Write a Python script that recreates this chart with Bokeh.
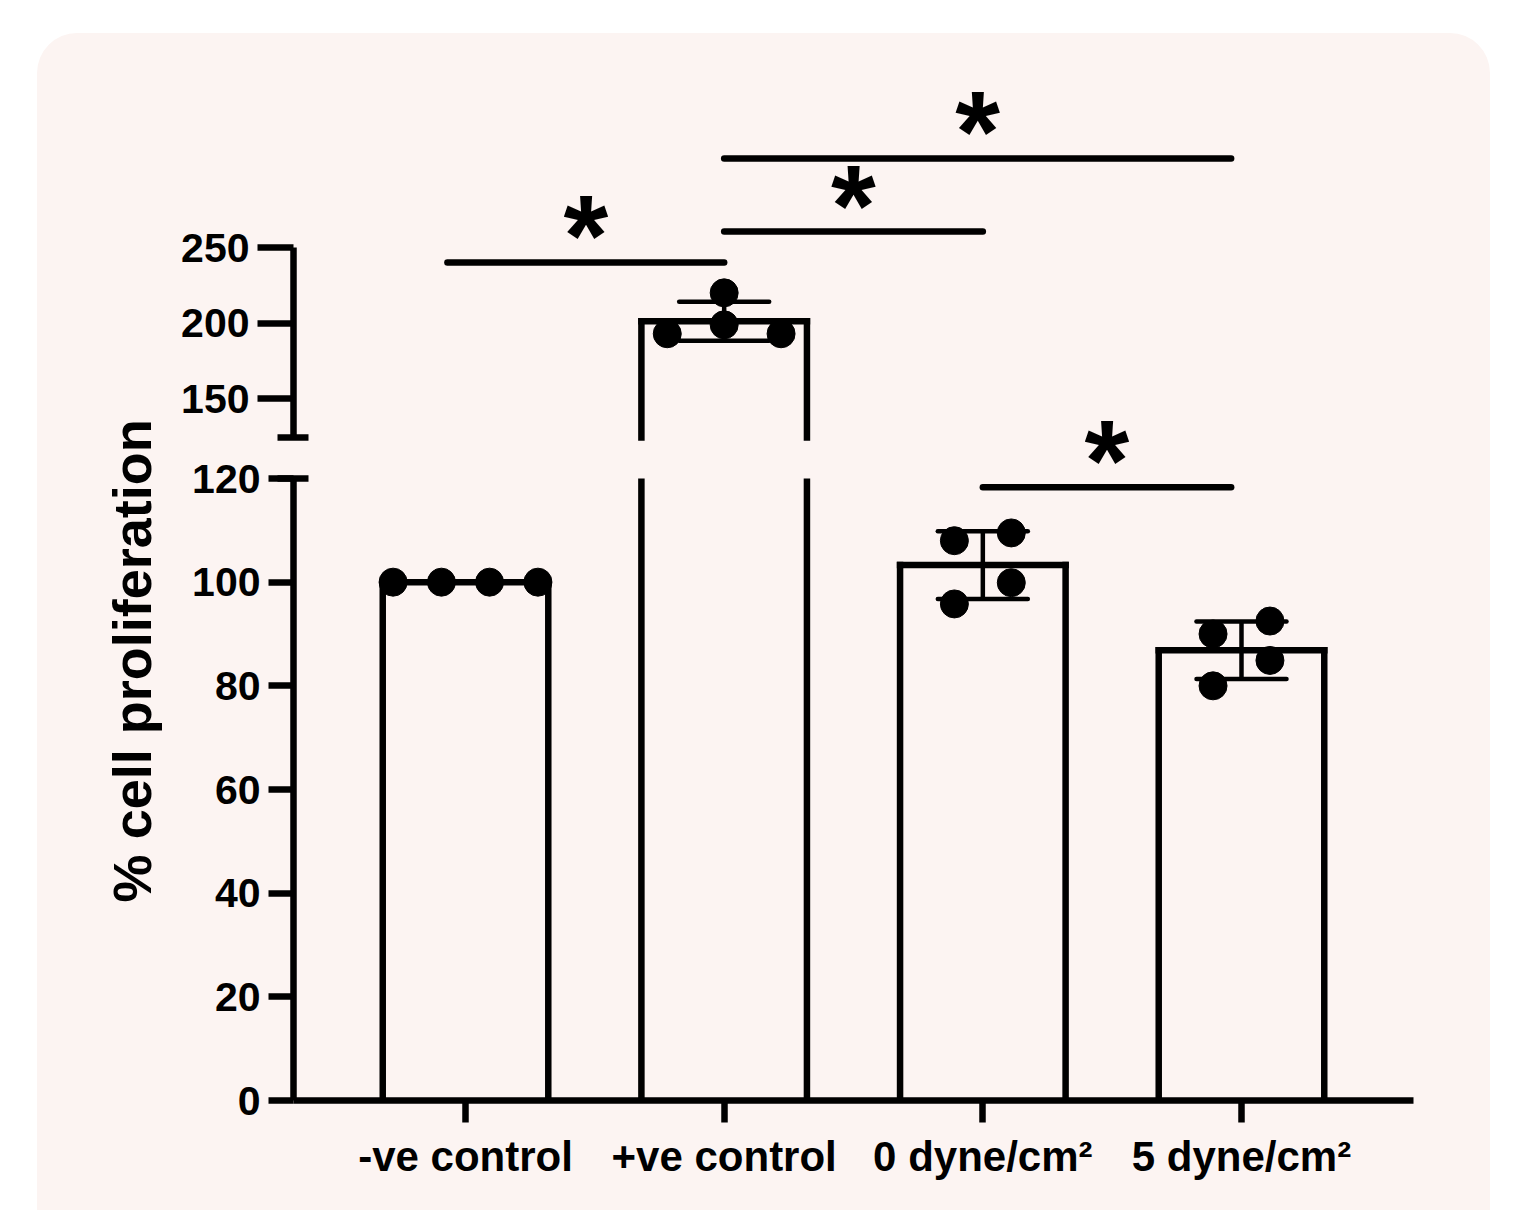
import numpy as np
from bokeh.plotting import figure
from bokeh.models import Range1d, FixedTicker
from bokeh.layouts import column, row
from bokeh.core.properties import value
from bokeh.embed import file_html
from bokeh.resources import INLINE

# ---------------- data ----------------
categories = ["-ve control", "+ve control", "0 dyne/cm\u00b2", "5 dyne/cm\u00b2"]
neg_control = [100.0, 100.0, 100.0, 100.0]
pos_control = [193.2, 220.3, 199.1, 193.2]
dyne_0 = [108.0, 109.5, 99.9, 95.8]
dyne_5 = [90.0, 92.5, 84.9, 80.0]
groups = [neg_control, pos_control, dyne_0, dyne_5]
jitter = [[-0.28, -0.093, 0.093, 0.28],
          [-0.22, 0.0, 0.0, 0.22],
          [-0.11, 0.11, 0.11, -0.11],
          [-0.11, 0.11, 0.11, -0.11]]

upper_ticks = [150, 200, 250]
lower_ticks = [0, 20, 40, 60, 80, 100, 120]
break_low = 120.0     # top of lower axis segment
break_high = 124.5    # bottom of upper axis segment

# significance brackets
sig_x0 = [-0.07, 1.0, 1.0, 2.0]
sig_x1 = [1.0, 2.0, 2.96, 2.96]
sig_y = [240.4, 260.9, 309.3, 118.3]
sig_text = ["*", "*", "*", "*"]
y_title = "% cell proliferation"

# ---------------- derived ----------------
xs = list(range(len(categories)))
means = [float(np.mean(g)) for g in groups]
sds = [float(np.std(g, ddof=1)) for g in groups]

# ---------------- layout / style ----------------
FONT = "Liberation Sans"
BG = "#FCF4F2"
LW = 6.5
BAR_W = 0.64
CAP_W = 0.174
STAR_LIFT = 27.0          # px from bracket line to star anchor
xr = Range1d(-0.665, 3.665)

TITLE_W = 130
MAIN_W = 1453 - TITLE_W
PPU_U = 1.51              # px per unit, upper segment
PPU_L = 622.0 / 120.0     # px per unit, lower segment
GAP = 41                  # px between the two axis segments
EXT = 160                 # upper frame extends this far below its axis end
UP_TOP = 27
UP_FRAME = 377 + EXT
UP_H = UP_TOP + UP_FRAME
LO_TOP = 38
LO_BOT = 110
LO_H = LO_TOP + 622 + LO_BOT
LO_SHIFT = GAP - LO_TOP - EXT   # negative: lower figure overlaps the upper one

u_bot = break_high - EXT / PPU_U
u_top = u_bot + UP_FRAME / PPU_U


def lower_to_upper(v):
    """value on the lower segment -> upper-segment coords at the same screen spot"""
    px_below_break = (break_low - v) * PPU_L + GAP
    return break_high - px_below_break / PPU_U


def make_fig(height, y0, y1, top, bottom, upper_part, **kw):
    p = figure(width=MAIN_W, height=height, x_range=xr, y_range=Range1d(y0, y1),
               output_backend="svg", toolbar_location=None,
               min_border_left=126, min_border_right=77,
               min_border_top=top, min_border_bottom=bottom,
               border_fill_color=None, background_fill_color=None,
               outline_line_color=None, **kw)
    p.xgrid.grid_line_color = None
    p.ygrid.grid_line_color = None

    def seg(v):
        return v >= break_high if upper_part else v <= break_low

    # bar sides (limited to this axis segment) and tops
    sx, sb, st = [], [], []
    for x, m in zip(xs, means):
        if upper_part and m < break_high:
            continue
        for dx in (-BAR_W / 2, BAR_W / 2):
            sx.append(x + dx)
            sb.append(break_high if upper_part else 0.0)
            st.append(m if upper_part else min(m, break_low))
    p.segment(x0=sx, x1=sx, y0=sb, y1=st, line_color="black",
              line_width=LW, line_cap="square")
    tx = [x for x, m in zip(xs, means) if seg(m)]
    tm = [m for m in means if seg(m)]
    p.segment(x0=[x - BAR_W / 2 for x in tx], x1=[x + BAR_W / 2 for x in tx],
              y0=tm, y1=tm, line_color="black", line_width=LW, line_cap="square")
    # error bars (mean +/- SD)
    ex = [x for x, m in zip(xs, means) if seg(m)]
    elo = [m - s for m, s in zip(means, sds) if seg(m)]
    ehi = [m + s for m, s in zip(means, sds) if seg(m)]
    p.segment(x0=ex, x1=ex, y0=elo, y1=ehi, line_color="black", line_width=4.5)
    for yy in (elo, ehi):
        p.segment(x0=[x - CAP_W for x in ex], x1=[x + CAP_W for x in ex],
                  y0=yy, y1=yy, line_color="black", line_width=4.5, line_cap="round")
    # points
    px = [x + j for x, js, g in zip(xs, jitter, groups) for j, v in zip(js, g) if seg(v)]
    py = [v for g in groups for v in g if seg(v)]
    p.scatter(x=px, y=py, size=28, fill_color="black", line_color="black")
    # significance lines
    k = [i for i, y in enumerate(sig_y) if seg(y)]
    p.segment(x0=[sig_x0[i] for i in k], x1=[sig_x1[i] for i in k],
              y0=[sig_y[i] for i in k], y1=[sig_y[i] for i in k],
              line_color="black", line_width=LW, line_cap="round")
    # stars: all drawn in the upper figure, whose frame reaches below the break
    if upper_part:
        sy = []
        for y in sig_y:
            base = y if y >= break_high else lower_to_upper(y)
            sy.append(base + STAR_LIFT / PPU_U)
        p.text(x=[(a + b) / 2 for a, b in zip(sig_x0, sig_x1)], y=sy,
               text=sig_text, text_font=value(FONT),
               text_font_style="bold", text_font_size="115px",
               text_align="center", text_baseline="alphabetic", text_color="black")
    return p


def style_yaxis(ax, ticks, minor, bounds, tick_out):
    ax.ticker = FixedTicker(ticks=ticks, minor_ticks=minor)
    ax.bounds = bounds
    ax.axis_line_width = LW
    ax.axis_line_color = "black"
    ax.major_tick_line_width = LW
    ax.major_tick_out = tick_out
    ax.major_tick_in = 0
    ax.minor_tick_line_width = LW
    ax.minor_tick_out = 16
    ax.minor_tick_in = 15
    ax.major_label_standoff = 8
    ax.major_label_text_font = FONT
    ax.major_label_text_font_style = "bold"
    ax.major_label_text_font_size = "41px"
    ax.major_label_text_color = "black"


upper = make_fig(UP_H, u_bot, u_top, UP_TOP, 0, True,
                 styles={"position": "relative", "z-index": "2"})
upper.xaxis.visible = False
style_yaxis(upper.yaxis[0], upper_ticks, [break_high], (break_high, 250), 36)

lower = make_fig(LO_H, 0, break_low, LO_TOP, LO_BOT, False,
                 margin=(LO_SHIFT, 0, 0, 0),
                 styles={"position": "relative", "z-index": "1"})
style_yaxis(lower.yaxis[0], lower_ticks, [break_low], (0, break_low), 25)
xa = lower.xaxis[0]
xa.ticker = FixedTicker(ticks=xs, minor_ticks=[])
xa.major_label_overrides = {x: c for x, c in zip(xs, categories)}
xa.axis_line_width = LW
xa.major_tick_line_width = LW
xa.major_tick_out = 22
xa.major_tick_in = 0
xa.major_label_standoff = 10
xa.major_label_text_font = FONT
xa.major_label_text_font_style = "bold"
xa.major_label_text_font_size = "42px"
xa.major_label_text_color = "black"

# left strip carrying the y-axis title
tfig = figure(width=TITLE_W, height=UP_H + LO_H + LO_SHIFT, x_range=Range1d(0, 1),
              y_range=Range1d(0, 1), output_backend="svg", toolbar_location=None,
              min_border=0, border_fill_color=None, background_fill_color=None,
              outline_line_color=None)
tfig.axis.visible = False
tfig.grid.grid_line_color = None
tfig.text(x=[0.727], y=[0.467], text=[y_title], angle=np.pi / 2,
          text_align="center", text_baseline="middle", text_font=value(FONT),
          text_font_style="bold", text_font_size="54px", text_color="black")

layout = row(tfig, column(upper, lower, spacing=0), spacing=0,
             margin=(33, 0, 0, 37),
             styles={"background-color": BG, "border-radius": "40px 40px 0 0"})

open("out.html", "w").write(file_html(layout, INLINE))
